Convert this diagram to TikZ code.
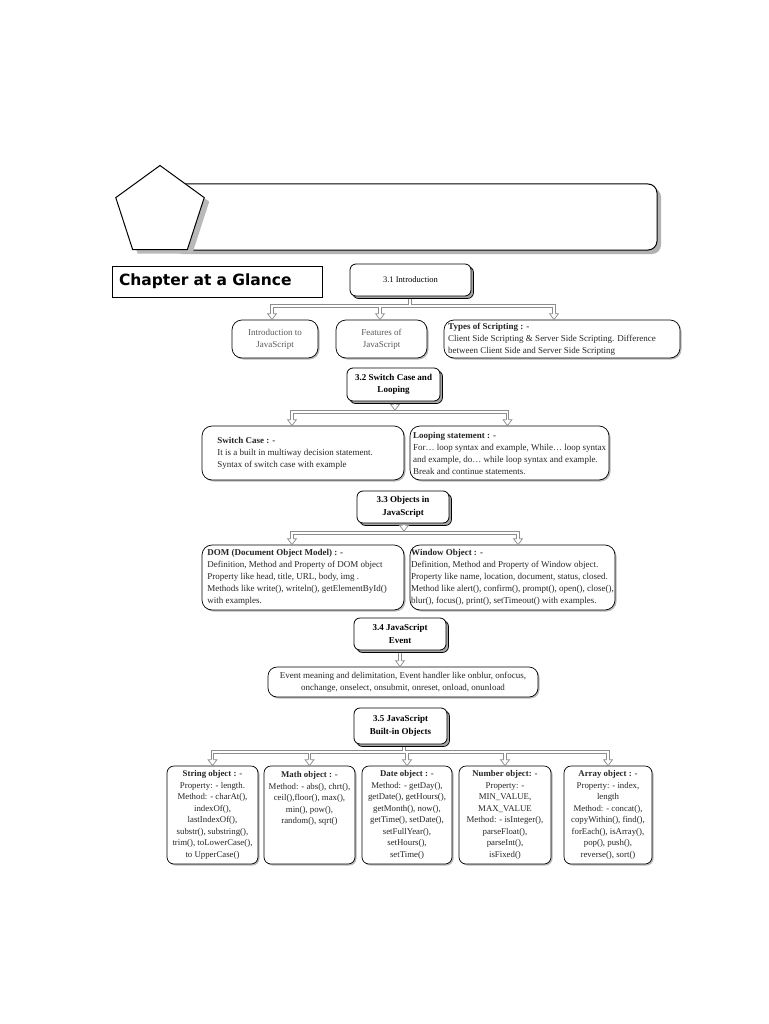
\documentclass[tikz,border=0pt]{standalone}
\usepackage{fontspec}
\setmainfont{Liberation Serif}
\newfontfamily\glancefont{DejaVu Sans}
\usetikzlibrary{shapes.geometric,shadows,calc}
\pgfdeclarelayer{back}
\pgfdeclarelayer{bg}
\pgfsetlayers{back,bg,main}
\tikzset{
  box/.style={draw=black, line width=0.7pt, fill=white, rounded corners=7pt, inner sep=0pt,
    font=\fontsize{9}{12}\selectfont, text=black!85},
  secbox/.style={box, rounded corners=6pt, line width=0.8pt,
    font=\fontsize{9}{12.5}\selectfont\bfseries, text=black, align=center,
    copy shadow={shadow xshift=2.5pt, shadow yshift=-2.5pt, fill=gray!70, draw=black, line width=0.7pt}},
  leaf/.style={box, drop shadow={shadow xshift=1.5pt, shadow yshift=-1.5pt, fill=gray!55, opacity=1}},
  objbox/.style={leaf, align=center, minimum width=#1, minimum height=98pt, font=\fontsize{8.8}{11.5}\selectfont},
  pentst/.style={regular polygon, regular polygon sides=5, minimum size=93pt, inner sep=0pt},
  pipeo/.style={draw=gray!90, line width=3.6pt},
  pipei/.style={draw=white, line width=1.5pt},
  tipst/.style={draw=gray!90, fill=white, line width=0.7pt},
}
\newcommand{\hollowtip}[1]{\draw[tipst] ([xshift=-1.2pt,yshift=6pt]#1) -- ([xshift=-4.5pt,yshift=6pt]#1) -- (#1) -- ([xshift=4.5pt,yshift=6pt]#1) -- ([xshift=1.2pt,yshift=6pt]#1);}
\begin{document}
\begin{tikzpicture}[x=1pt,y=-1pt]
\useasboundingbox (0,0) rectangle (768,1024);
\begin{pgfonlayer}{back}
\fill[white] (0,0) rectangle (768,1024);
\end{pgfonlayer}

% header
\node[draw=black, line width=1pt, fill=white, rounded corners=9pt, minimum width=487pt, minimum height=66pt,
  drop shadow={shadow xshift=4pt, shadow yshift=-4pt, fill=gray!60, opacity=1}] (ban) at (413.5,217) {};
\node[pentst, fill=gray!55] (penshadow) at (165,216) {};
\node[pentst, draw=black, line width=1pt, fill=white] (pen) at (160,212) {};
\node[draw=black, line width=1pt, fill=white, minimum width=210pt, minimum height=31pt, inner sep=0pt,
  text width=196pt, align=left, font=\glancefont\bfseries\fontsize{15.5}{18}\selectfont] (glance) at (217,281.5) {Chapter at a Glance};

% 3.1
\node[secbox, font=\fontsize{8.5}{12}\selectfont, minimum width=121pt, minimum height=32pt] (s1) at (410.5,280) {3.1 Introduction};
\node[leaf, rounded corners=10pt, align=center, text=black!65, minimum width=86pt, minimum height=38pt] (intro) at (275,339) {Introduction to\\JavaScript};
\node[leaf, rounded corners=10pt, align=center, text=black!65, minimum width=91pt, minimum height=38pt] (feat) at (381.5,339) {Features of\\JavaScript};
\node[leaf, rounded corners=10pt, align=left, minimum width=236pt, minimum height=38pt] (types) at (562,339)
  {\textbf{Types of Scripting : -}\\Client Side Scripting \& Server Side Scripting. Difference\rule{20pt}{0pt}\\between Client Side and Server Side Scripting};

% 3.2
\node[secbox, minimum width=93pt, minimum height=33pt] (s2) at (393.5,384.5) {3.2 Switch Case and\\Looping};
\node[leaf, rounded corners=10pt, align=left, minimum width=202pt, minimum height=54pt] (sw) at (303,453)
  {\textbf{Switch Case : -}\\It is a built in multiway decision statement.\rule{16pt}{0pt}\\Syntax of switch case with example};
\node[leaf, rounded corners=10pt, align=left, minimum width=199pt, minimum height=54pt] (lp) at (509.5,453)
  {\textbf{Looping statement : -}\\For\dots\ loop syntax and example, While\dots\ loop syntax\\and example, do\dots\ while loop syntax and example.\\Break and continue statements.};

% 3.3
\node[secbox, minimum width=92pt, minimum height=32pt] (s3) at (403,507) {3.3 Objects in\\JavaScript};
\node[leaf, rounded corners=10pt, align=left, minimum width=202pt, minimum height=65pt] (dom) at (303,577.5)
  {\textbf{DOM (Document Object Model) : -}\\Definition, Method and Property of DOM object\\Property like head, title, URL, body, img .\\Methods like write(), writeln(), getElementById()\rule{12pt}{0pt}\\with examples.};
\node[leaf, rounded corners=10pt, align=left, minimum width=205pt, minimum height=65pt] (win) at (512.5,577.5)
  {\textbf{Window Object : -}\\Definition, Method and Property of Window object.\\Property like name, location, document, status, closed.\\Method like alert(), confirm(), prompt(), open(), close(),\\blur(), focus(), print(), setTimeout() with examples.};

% 3.4
\node[secbox, minimum width=92pt, minimum height=32pt] (s4) at (400,634) {3.4 JavaScript\\Event};
\node[leaf, rounded corners=9pt, align=center, minimum width=270pt, minimum height=30pt] (ev) at (403,682)
  {Event meaning and delimitation, Event handler like onblur, onfocus,\\onchange, onselect, onsubmit, onreset, onload, onunload};

% 3.5
\node[secbox, minimum width=93pt, minimum height=36pt] (s5) at (400.5,726) {3.5 JavaScript\\Built-in Objects};
\node[objbox=91pt] (str) at (212.5,815) {\textbf{String object : -}\\Property: - length.\\Method: - charAt(),\\indexOf(),\\lastIndexOf(),\\substr(), substring(),\\trim(), toLowerCase(),\\to UpperCase()};
\node[objbox=91pt] (mth) at (309.5,815) {\textbf{Math object : -}\\Method: - abs(), chrt(),\\ceil(),floor(), max(),\\min(), pow(),\\random(), sqrt()\\\mbox{}\\\mbox{}\\\mbox{}};
\node[objbox=90pt] (dat) at (407,815) {\textbf{Date object : -}\\Method: - getDay(),\\getDate(), getHours(),\\getMonth(), now(),\\getTime(), setDate(),\\setFullYear(),\\setHours(),\\setTime()};
\node[objbox=92pt] (num) at (505,815) {\textbf{Number object: -}\\Property: -\\MIN\_VALUE,\\MAX\_VALUE\\Method: - isInteger(),\\parseFloat(),\\parseInt(),\\isFixed()};
\node[objbox=88pt] (arr) at (608,815) {\textbf{Array object : -}\\Property: - index,\\length\\Method: - concat(),\\copyWithin(), find(),\\forEach(), isArray(),\\pop(), push(),\\reverse(), sort()};

% connector coordinates
\coordinate (b1) at (410,306);
\coordinate (tI) at ([xshift=-3pt]intro.north);
\coordinate (tF) at ([xshift=-1.5pt]feat.north);
\coordinate (tT) at ([xshift=-8pt]types.north);
\coordinate (b2) at (395,412);
\coordinate (k2) at ([yshift=1.8pt]b2);
\coordinate (tS) at ([xshift=-11pt]sw.north);
\coordinate (tL) at ([xshift=-2pt]lp.north);
\coordinate (b3) at (404,533);
\coordinate (k3) at ([yshift=1.8pt]b3);
\coordinate (tD) at ([xshift=-11pt]dom.north);
\coordinate (tW) at ([xshift=5.5pt]win.north);
\coordinate (tE) at (s4.center |- ev.north);
\coordinate (b5) at (404,752);

\begin{pgfonlayer}{bg}
\foreach \st in {pipeo,pipei}{
  \draw[\st] (b1 |- s1.center) -- (b1);
  \draw[\st] (b1) -| ([yshift=6pt]tI);
  \draw[\st] (b1) -| ([yshift=6pt]tF);
  \draw[\st] (b1) -| ([yshift=6pt]tT);
  \draw[\st] (b2 |- s2.center) -- ([yshift=6pt]k2);
  \draw[\st] (b2) -| ([yshift=6pt]tS);
  \draw[\st] (b2) -| ([yshift=6pt]tL);
  \draw[\st] (b3 |- s3.center) -- ([yshift=6pt]k3);
  \draw[\st] (b3) -| ([yshift=6pt]tD);
  \draw[\st] (b3) -| ([yshift=6pt]tW);
  \draw[\st] (s4.center) -- ([yshift=6pt]tE);
  \draw[\st] (b5 |- s5.center) -- (b5);
  \draw[\st] (b5) -| ([yshift=6pt]str.north);
  \draw[\st] (b5) -| ([yshift=6pt]mth.north);
  \draw[\st] (b5) -| ([yshift=6pt]dat.north);
  \draw[\st] (b5) -| ([yshift=6pt]num.north);
  \draw[\st] (b5) -| ([yshift=6pt]arr.north);
}
\end{pgfonlayer}

\hollowtip{tI}\hollowtip{tF}\hollowtip{tT}
\hollowtip{k2}\hollowtip{tS}\hollowtip{tL}
\hollowtip{k3}\hollowtip{tD}\hollowtip{tW}
\hollowtip{tE}
\hollowtip{str.north}\hollowtip{mth.north}\hollowtip{dat.north}\hollowtip{num.north}\hollowtip{arr.north}
\end{tikzpicture}
\end{document}
